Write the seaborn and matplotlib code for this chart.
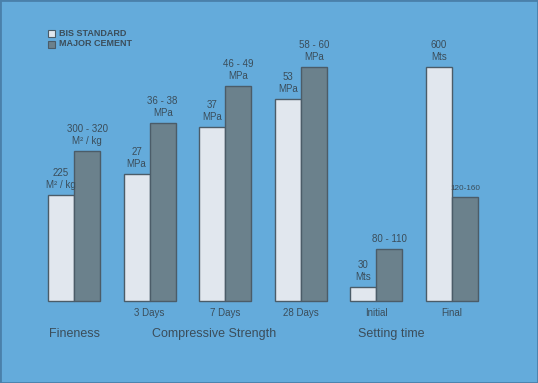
import matplotlib
matplotlib.use("Agg")
import matplotlib.pyplot as plt
import matplotlib.patches as mpatches
import seaborn as sns
import pandas as pd

# Data (bar heights are relative display heights as drawn in the infographic)
categories = ["Fineness", "3 Days", "7 Days", "28 Days", "Initial", "Final"]
tick_labels = ["", "3 Days", "7 Days", "28 Days", "Initial", "Final"]
bis_values = [106, 127, 174, 202, 14, 234]
major_values = [150, 178, 215, 234, 52, 104]
bis_labels = ["225\nM² / kg", "27\nMPa", "37\nMPa", "53\nMPa", "30\nMts", "600\nMts"]
major_labels = ["300 - 320\nM² / kg", "36 - 38\nMPa", "46 - 49\nMPa", "58 - 60\nMPa", "80 - 110", "120-160"]
groups = ["Fineness", "Compressive Strength", "Setting time"]
group_centers = [0, 1.85, 4.2]
series = ["BIS STANDARD", "MAJOR CEMENT"]

BG = "#64abdb"
TXT = "#3b4d5a"
C_BIS = "#e1e7ee"
C_MAJ = "#6b818c"
EDGE = "#4b5c68"

df = pd.DataFrame({
    "cat": categories * 2,
    "val": bis_values + major_values,
    "series": [series[0]] * 6 + [series[1]] * 6,
})

sns.set_style("white")
plt.rcParams["font.family"] = ["Liberation Sans", "DejaVu Sans"]

fig = plt.figure(figsize=(5.38, 3.83), dpi=100)
fig.patch.set_facecolor(BG)
ax = fig.add_axes([0, 0, 1, 1])
ax.set_facecolor(BG)

sns.barplot(data=df, x="cat", y="val", hue="series", order=categories,
            hue_order=series, palette=[C_BIS, C_MAJ], width=0.69,
            edgecolor=EDGE, linewidth=1.0, ax=ax, legend=False, saturation=1)

px = 75.6
ax.set_xlim(-74 / px, (538 - 74) / px)
ax.set_ylim(-82, 301)
ax.axis("off")

# value labels
for cont, labels in zip(ax.containers, [bis_labels, major_labels]):
    for bar, lab in zip(cont, labels):
        x = bar.get_x() + bar.get_width() / 2
        h = bar.get_height()
        fs = 5.9 if lab == "120-160" else 7
        ax.text(x, h + 5, lab, ha="center", va="bottom", fontsize=fs,
                color=TXT, linespacing=1.2)

# category tick labels
for i, t in enumerate(tick_labels):
    if t:
        ax.text(i, -12, t, ha="center", va="center", fontsize=7, color=TXT)

# group labels
for g, c in zip(groups, group_centers):
    ax.text(c, -33, g, ha="center", va="center", fontsize=9, color=TXT)

# legend
fig.patches.append(mpatches.Rectangle((48 / 538, 1 - 37 / 383), 7 / 538, 7 / 383,
                   transform=fig.transFigure, facecolor=C_BIS, edgecolor=EDGE, lw=0.8))
fig.patches.append(mpatches.Rectangle((48 / 538, 1 - 48 / 383), 7 / 538, 7 / 383,
                   transform=fig.transFigure, facecolor=C_MAJ, edgecolor=EDGE, lw=0.8))
fig.text(59 / 538, 1 - 33 / 383, "BIS STANDARD", fontsize=6.5, fontweight="bold",
         color=TXT, va="center", ha="left")
fig.text(59 / 538, 1 - 44 / 383, "MAJOR CEMENT", fontsize=6.5, fontweight="bold",
         color=TXT, va="center", ha="left")

# border
fig.patches.append(mpatches.Rectangle((0, 0), 1, 1, transform=fig.transFigure,
                   facecolor="none", edgecolor="#4a80aa", lw=2))

fig.savefig("out.png", dpi=100, facecolor=BG)
